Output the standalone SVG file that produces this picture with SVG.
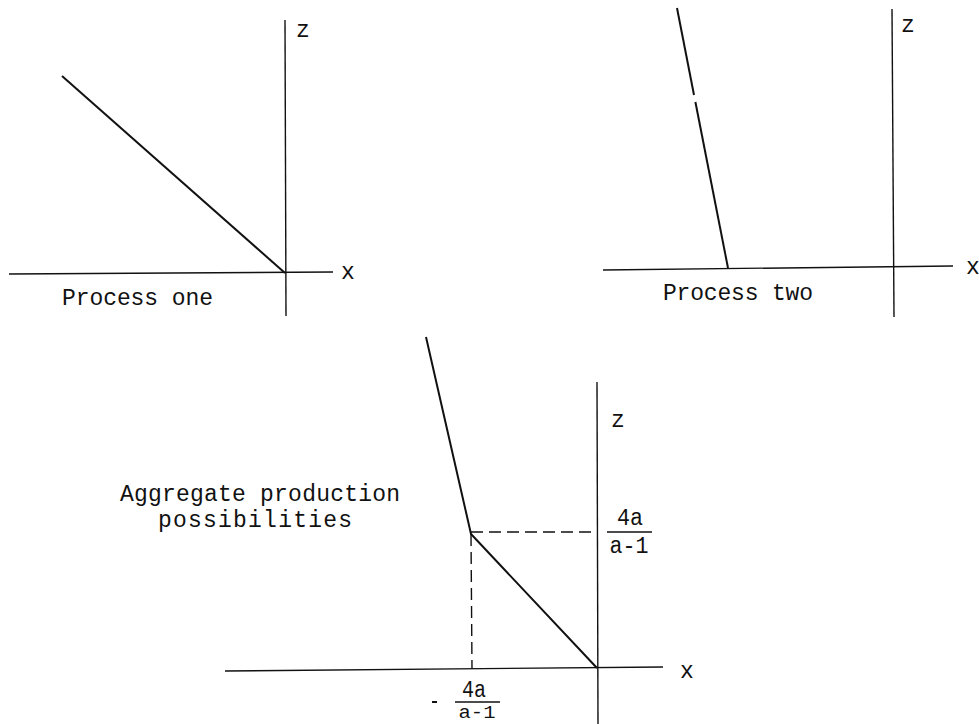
<svg xmlns="http://www.w3.org/2000/svg" width="979" height="724" viewBox="0 0 979 724">
<style>
.ax{stroke:#111;stroke-width:1.4;fill:none}
.cv{stroke:#111;stroke-width:2;fill:none;stroke-linejoin:round}
.dsh{stroke:#111;stroke-width:1.4;fill:none;stroke-dasharray:12 6}
text{font-family:"Liberation Mono","DejaVu Sans Mono",monospace;font-size:23px;fill:#111}
.m{text-anchor:middle}
.sm{font-size:19px}
</style>
<rect width="979" height="724" fill="#fff"/>
<g id="panel-one">
  <line class="ax" x1="9" y1="274" x2="333" y2="272"/>
  <line class="ax" x1="285" y1="20" x2="286" y2="316"/>
  <text x="341" y="279">x</text>
  <text x="296" y="37">z</text>
  <text x="62" y="305" textLength="151" lengthAdjust="spacing">Process one</text>
</g>
<g id="panel-two">
  <line class="ax" x1="603" y1="270" x2="953" y2="266"/>
  <line class="ax" x1="892" y1="9" x2="894" y2="317"/>
  <text x="966" y="274">x</text>
  <text x="901" y="32">z</text>
  <text x="663" y="300" textLength="150" lengthAdjust="spacing">Process two</text>
</g>
<g id="panel-aggregate">
  <line class="ax" x1="225" y1="671" x2="663" y2="667"/>
  <line class="ax" x1="597" y1="382" x2="598" y2="724"/>
  <text x="680" y="678">x</text>
  <text x="611" y="427">z</text>
  <text x="120" y="501" textLength="280" lengthAdjust="spacing">Aggregate production</text>
  <text x="158" y="527" textLength="194" lengthAdjust="spacing">possibilities</text>
  <text class="m" x="630" y="525" textLength="26" lengthAdjust="spacingAndGlyphs">4a</text>
  <line class="ax" x1="607" y1="532" x2="652" y2="532"/>
  <text class="m" x="629" y="553" textLength="39" lengthAdjust="spacingAndGlyphs">a-1</text>
  <line class="ax" x1="432" y1="702" x2="437" y2="702" style="stroke-width:2"/>
  <text class="m" x="474" y="697" textLength="24" lengthAdjust="spacingAndGlyphs">4a</text>
  <line class="ax" x1="455" y1="702" x2="500" y2="702"/>
  <text class="m sm" x="477" y="718" textLength="37" lengthAdjust="spacingAndGlyphs">a-1</text>
</g>
<g id="connectors">
  <line class="cv" x1="62" y1="76" x2="285" y2="273"/>
  <line class="cv" x1="677" y1="8" x2="694" y2="95"/>
  <line class="cv" x1="695.4" y1="102" x2="728" y2="268"/>
  <polyline class="cv" points="426,337 471,534 597,668"/>
  <line class="dsh" x1="471" y1="532" x2="597" y2="532"/>
  <line class="dsh" x1="471" y1="534" x2="472" y2="669"/>
</g>
</svg>
